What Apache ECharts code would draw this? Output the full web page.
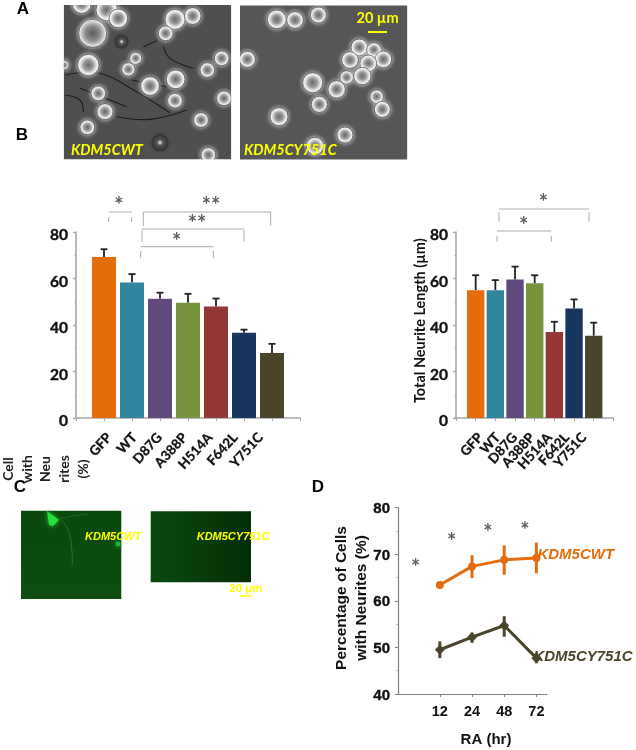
<!DOCTYPE html>
<html>
<head>
<meta charset="utf-8">
<style>html,body{margin:0;padding:0;background:#fff}#c{width:636px;height:750px}</style>
<script src="https://cdn.jsdelivr.net/npm/echarts@6/dist/echarts.min.js"></script>
</head>
<body>
<div id="c"></div>
<script>
// ---- data ----
const variants = ['GFP','WT','D87G','A388P','H514A','F642L','Y751C'];
const barColors = ['#E46C0A','#31859C','#604A7B','#77933C','#953735','#17375E','#4A452A'];
const pctCells = [69.3,58.3,51.3,49.6,48,36.7,28];
const pctCellsUpper = [72.6,61.9,53.9,53.4,51.4,38,31.9];
const neuriteLen = [55,55,59.6,58,37,47.1,35.4];
const neuriteLenUpper = [61.4,59.3,65.1,61.4,41.4,51,41];
const raHours = ['12','24','48','72'];
const wtPct = [63.4,67.4,68.8,69.2];
const wtLow = [62.6,64.9,65.6,65.9];
const wtHigh = [64.1,69.8,71.9,72.5];
const mutPct = [49.5,52.2,54.7,47.7];
const mutLow = [47.7,51,52.3,46.6];
const mutHigh = [51.3,53.2,56.7,48.8];

// ---- helpers ----
const INK = '#111';
const GREY = '#a6a6a6';
const LATO = 'Lato';
const ARIAL = 'Liberation Sans';
const RA_PAD = 1.3;

function padded(arr){ return [null].concat(arr, [null]); }
function barData(vals){
  return padded(vals.map((v,i)=>({value:v,itemStyle:{color:barColors[i]}})));
}
function upperRows(vals,upper){ return vals.map((v,i)=>[variants[i],v,upper[i]]); }
function capErr(params,api){
  const lo = api.coord([api.value(0),api.value(1)]);
  const hi = api.coord([api.value(0),api.value(2)]);
  const cap = 3.5;
  return {type:'group',children:[
    {type:'line',shape:{x1:lo[0],y1:lo[1],x2:hi[0],y2:hi[1]},style:{stroke:'#222',lineWidth:1.8}},
    {type:'line',shape:{x1:hi[0]-cap,y1:hi[1],x2:hi[0]+cap,y2:hi[1]},style:{stroke:'#222',lineWidth:1.8}}
  ]};
}
function stemErr(color){
  return function(params,api){
    const lo = api.coord([api.value(0),api.value(1)]);
    const hi = api.coord([api.value(0),api.value(2)]);
    return {type:'line',shape:{x1:lo[0],y1:lo[1],x2:hi[0],y2:hi[1]},style:{stroke:color,lineWidth:3}};
  };
}
function valAxis(grid,min,max,step,labelFont,labelSize,lineH){
  return {
    gridIndex:grid,type:'value',min,max,interval:step,
    axisLine:{show:true,lineStyle:{color:GREY,width:1.6}},
    axisTick:{show:true,length:3,lineStyle:{color:GREY,width:1.4}},
    minorTick:{show:true,splitNumber:2,length:1.5,lineStyle:{color:GREY}},
    splitLine:{show:false},
    axisLabel:{color:INK,fontFamily:labelFont,fontWeight:'bold',fontSize:labelSize,margin:8,verticalAlign:'top',lineHeight:lineH,
      textBorderColor:INK,textBorderWidth:.4}
  };
}
function catAxis(grid){
  return {
    gridIndex:grid,type:'category',boundaryGap:false,data:padded(variants).map(v=>v===null?'':v),
    axisLine:{show:true,onZero:false,lineStyle:{color:GREY,width:1.6}},
    axisTick:{show:true,length:3,interval:0,lineStyle:{color:GREY}},
    axisLabel:{show:false}
  };
}
// labels in the figure are packed tighter than the ticks, so they hang on their own hidden axis
function labelAxis(grid,fontSize,margin){
  return {
    gridIndex:grid,type:'category',boundaryGap:false,data:padded(variants).map(v=>v===null?'':v),
    axisLine:{show:false},axisTick:{show:false},
    axisLabel:{interval:0,rotate:48,color:INK,fontFamily:LATO,fontWeight:'bold',fontSize,margin,
      textBorderColor:INK,textBorderWidth:.3}
  };
}
function hiddenY(grid){ return {gridIndex:grid,type:'value',min:0,max:80,show:false,splitLine:{show:false}}; }

// ---- graphic scenery (micrographs, annotation) ----
const g = [];
function rect(x,y,w,h,fill,extra){ g.push(Object.assign({type:'rect',shape:{x,y,width:w,height:h},style:{fill}},extra||{})); }
function txt(x,y,text,font,fill,align,rot){
  const el = {type:'text',x,y,style:{text,font,fill,align:align||'center',verticalAlign:'middle'}};
  if(rot){el.rotation=rot;}
  g.push(el);
}
function seg(x1,y1,x2,y2,stroke,w){ g.push({type:'line',shape:{x1,y1,x2,y2},style:{stroke,lineWidth:w}}); }
function poly(pts,stroke,w,smooth){ g.push({type:'polyline',shape:{points:pts,smooth:smooth||0},style:{stroke,lineWidth:w,fill:null}}); }
function cell(zx,zy,zr,kind){
  const stops = kind==='dark'
    ? [{offset:0,color:'#f2f2f2'},{offset:.3,color:'#555'},{offset:.85,color:'#333'},{offset:1,color:'#999'}]
    : kind==='big'
    ? [{offset:0,color:'#5c5c5c'},{offset:.5,color:'#8a8a8a'},{offset:.8,color:'#c8c8c8'},{offset:1,color:'#fff'}]
    : [{offset:0,color:'#6a6a6a'},{offset:.45,color:'#9c9c9c'},{offset:.72,color:'#e0e0e0'},{offset:1,color:'#fff'}];
  g.push({type:'circle',shape:{cx:zx/3,cy:zy/3,r:zr/3},
    style:{fill:{type:'radial',x:.5,y:.5,r:.5,colorStops:stops},stroke:'#262626',lineWidth:.6,shadowBlur:4,shadowColor:kind==='dark'?'rgba(0,0,0,0)':'rgba(255,255,255,.9)'}});
}
// photo A
rect(63.7,5,167.6,154.5,'#4f4f4f');
rect(240,5.5,167.4,154.5,'#565656');
[[[195,225],[300,220],[400,270],[510,338]],[[350,350],[450,358],[560,330]],[[490,140],[510,175],[580,205]],
 [[195,285],[240,300],[250,335]],[[240,265],[380,320]],[[430,140],[470,122]],[[395,240],[500,260]]].forEach(p=>{
  poly(p.map(q=>[q[0]/3,q[1]/3]),'#1c1c1c',1.1,.4);
});
[[278,100,42,'big'],[245,12,28],[320,30,32],[355,55,28],[525,58,30],[578,48,25],[497,100,22],[365,125,22,'dark'],
 [265,195,32],[407,175,18],[385,208,20],[665,175,22],[622,210,22],[527,238,28],[450,258,28],[295,280,22],
 [525,302,22],[672,295,22],[315,335,24],[262,382,22],[603,360,22],[625,465,22],[480,428,28,'dark'],[193,195,14]]
 .forEach(c=>cell(c[0],c[1],c[2],c[3]));
[[830,58,28],[885,60,25],[955,45,24],[742,178,24],[1078,142,25],[1122,150,22],[1150,178,25],[1105,190,25],[1050,180,25],
 [1040,232,20],[1087,228,26],[1010,268,26],[938,248,30],[958,313,24],[1130,290,20],[1147,328,24],[837,350,27],[1035,405,24],[945,438,26]]
 .forEach(c=>cell(c[0],c[1],c[2]));
// masks trimming the photo edges
[[0,0,636,5],[231.3,0,8.7,165],[407.4,0,30,165],[55,0,8.7,165],[55,159.6,360,12]].forEach(m=>rect(m[0],m[1],m[2],m[3],'#fff'));
txt(71,150,'KDM5CWT','italic bold 14.5px '+LATO,'#ffff00','left');
txt(244,150,'KDM5CY751C','italic bold 14.5px '+LATO,'#ffff00','left');
txt(377.5,18,'20 µm','bold 14.5px '+LATO,'#ffff00');
seg(368,32,387,32,'#ffff00',2);
// photo C
rect(21,510.7,100.3,88.3,{type:'linear',x:0,y:0,x2:0,y2:1,colorStops:[{offset:0,color:'#0b480c'},{offset:1,color:'#0f4c10'}]});
rect(150.7,511.3,100.3,71,{type:'linear',x:0,y:0,x2:1,y2:0,colorStops:[{offset:0,color:'#0a4a10'},{offset:1,color:'#042e06'}]});
poly([[60,519],[68,530],[72,552],[72,565]],'#1f7a25',1,.5);
poly([[60,519],[72,516],[88,514]],'#1a6c20',1,.3);
g.push({type:'polygon',shape:{points:[[47,511],[59,520],[53,526],[49,525]]},style:{fill:'#22e03a',shadowBlur:5,shadowColor:'#22c03a'}});
g.push({type:'circle',shape:{cx:118,cy:544,r:2.5},style:{fill:'#25b535',shadowBlur:5,shadowColor:'#25b535'}});
txt(85,537,'KDM5CWT','italic bold 11px '+ARIAL,'#ffff00','left');
txt(196.7,537,'KDM5CY751C','italic bold 11px '+ARIAL,'#ffff00','left');
txt(245.7,588.5,'20 µm','bold 11.5px '+ARIAL,'#ffff00');
seg(240,596,252,596,'#ffff00',1.5);
// panel letters
const LET = 'bold 17px '+ARIAL;
txt(23,9,'A',LET,'#000'); txt(22,135,'B',LET,'#000'); txt(318,487,'D',LET,'#000');
// brackets
const BR='#ababab';
function hline(y,a,b){ seg(a,y,b,y,BR,1); }
function vline(x,a,b){ seg(x,a,x,b,BR,1); }
hline(212,108.7,131.7); vline(108.7,217,222); vline(131.7,217,222);
hline(212,143.3,270.7); vline(143.3,212,226); vline(270.7,212,226);
hline(229,142,244); vline(142,230,241.7); vline(244,230,241.7);
hline(246.7,140.7,213.3); vline(140.7,251,258); vline(213.3,251,258);
hline(209,499,589); vline(499,212,221.7); vline(589,212,221.7);
hline(231,497,551.3); vline(497,235.7,241.7); vline(551.3,235.7,241.7);
function star(x,y,s){ txt(x,y+4,s,'bold 22px '+LATO,'#5c5c5c'); }
star(119,201.7,'*'); star(211,201.7,'**'); star(197,220,'**'); star(176.7,237.7,'*');
star(543.3,199,'*'); star(523.7,222,'*');
star(415.7,564,'*'); star(451.7,538,'*'); star(488,529,'*'); star(525,527,'*');
// rotated axis captions
const SIDE = Math.PI/2;
[['Cell',8],['with',27],['Neu',45],['rites',64],['(%)',83]].forEach(t=>{
  txt(t[1],469,t[0],'bold 14px '+LATO,'#222','center',SIDE);
});
txt(20,487,'C',LET,'#000');
txt(420,320.7,'Total Neurite Length (µm)','bold 14.5px '+LATO,INK,'center',SIDE);
txt(342,598,'Percentage of Cells','bold 15.5px '+ARIAL,INK,'center',SIDE);
txt(362,598,'with Neurites (%)','bold 15.5px '+ARIAL,INK,'center',SIDE);
txt(486,740,'RA (hr)','bold 15px '+ARIAL,INK);

// ---- chart ----
const chart = echarts.init(document.getElementById('c'),null,{renderer:'canvas'});
const lineLabel = (color,dx,dy)=>({show:true,formatter:'{a}',color,fontFamily:ARIAL,fontStyle:'italic',fontWeight:'bold',fontSize:15,distance:0,offset:[dx,dy]});
chart.setOption({
  animation:false,
  grid:[
    {left:76,top:232,width:224,height:186},
    {left:456,top:232,width:157.4,height:186},
    {left:398,top:507.7,width:148.7,height:186.3},
    {left:84,top:232,width:201.6,height:186},
    {left:463,top:232,width:138.4,height:186}
  ],
  xAxis:[
    catAxis(0),
    catAxis(1),
    {gridIndex:2,type:'value',min:0,max:4.62,
     axisLine:{show:true,onZero:false,lineStyle:{color:'#808080',width:1.2}},
     axisTick:{show:true,length:3,customValues:raHours.map((h,i)=>i+RA_PAD),lineStyle:{color:'#808080'}},
     axisLabel:{customValues:raHours.map((h,i)=>i+RA_PAD),formatter:v=>raHours[Math.round(v-RA_PAD)],
       color:INK,fontFamily:ARIAL,fontWeight:'bold',fontSize:14.5,margin:10},
     splitLine:{show:false}},
    labelAxis(3,13.5,17),
    labelAxis(4,13.5,17)
  ],
  yAxis:[
    valAxis(0,0,80,20,LATO,15.5,6),
    valAxis(1,0,80,20,LATO,15.5,6),
    Object.assign(valAxis(2,40,80,10,ARIAL,15,3),{axisLine:{show:true,lineStyle:{color:'#808080',width:1.2}},axisTick:{show:true,length:3,lineStyle:{color:'#808080'}}}),
    hiddenY(3),
    hiddenY(4)
  ],
  series:[
    {type:'bar',xAxisIndex:0,yAxisIndex:0,barWidth:24,data:barData(pctCells),silent:true},
    {type:'custom',xAxisIndex:0,yAxisIndex:0,renderItem:capErr,encode:{x:0,y:[1,2]},data:upperRows(pctCells,pctCellsUpper),z:1},
    {type:'bar',xAxisIndex:1,yAxisIndex:1,barWidth:17.4,data:barData(neuriteLen),silent:true},
    {type:'custom',xAxisIndex:1,yAxisIndex:1,renderItem:capErr,encode:{x:0,y:[1,2]},data:upperRows(neuriteLen,neuriteLenUpper),z:1},
    {type:'custom',xAxisIndex:2,yAxisIndex:2,renderItem:stemErr('#E46C0A'),encode:{x:0,y:[1,2]},data:wtLow.map((v,i)=>[i+RA_PAD,v,wtHigh[i]])},
    {type:'custom',xAxisIndex:2,yAxisIndex:2,renderItem:stemErr('#4A452A'),encode:{x:0,y:[1,2]},data:mutLow.map((v,i)=>[i+RA_PAD,v,mutHigh[i]])},
    {type:'line',name:'KDM5CWT',xAxisIndex:2,yAxisIndex:2,data:wtPct.map((v,i)=>[i+RA_PAD,v]),symbol:'circle',symbolSize:8,
     lineStyle:{color:'#E46C0A',width:3},itemStyle:{color:'#E46C0A'},endLabel:lineLabel('#E46C0A',1,-3)},
    {type:'line',name:'KDM5CY751C',xAxisIndex:2,yAxisIndex:2,data:mutPct.map((v,i)=>[i+RA_PAD,v]),symbol:'diamond',symbolSize:10,
     lineStyle:{color:'#4A452A',width:3},itemStyle:{color:'#4A452A'},endLabel:lineLabel('#4A452A',-3,-1)}
  ],
  graphic:{elements:g}
});
</script>
</body>
</html>
